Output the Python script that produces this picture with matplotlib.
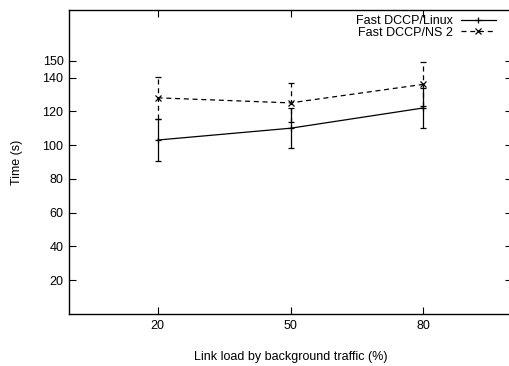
import numpy as np
import matplotlib.pyplot as plt
from matplotlib.lines import Line2D

plt.rcParams['font.family'] = ['Liberation Sans', 'DejaVu Sans']
plt.rcParams['font.size'] = 9

# link load (%) and completion time (s)
load = [20, 50, 80]
linux_mean = [103, 110, 122]
linux_err = [12.7, 12, 12]
ns2_mean = [128, 125, 136]
ns2_err = [12.5, 11.5, 13]

yticks = [20, 40, 60, 80, 100, 120, 140, 150]

dash = (0, (4, 3))

fig = plt.figure(figsize=(5.09, 3.66), dpi=100)
ax = fig.add_axes([69/509, 1 - 314/366, (512 - 69)/509, (314 - 10)/366])

ax.errorbar(load, linux_mean, yerr=linux_err, color='black', lw=0.9,
            elinewidth=0.9, capsize=2, capthick=0.9, marker='+', ms=5,
            mew=0.9)
eb = ax.errorbar(load, ns2_mean, yerr=ns2_err, color='black', lw=0.9,
                 ls=dash, elinewidth=0.9, capsize=2, capthick=0.9,
                 marker='x', ms=4, mew=0.9)
# dashed error bars for the simulation series
eb[2][0].set_linestyle(dash)

ax.set_xlim(0, 100)
ax.set_ylim(0, 180)
ax.set_xticks(load)
ax.set_yticks(yticks)
ax.tick_params(direction='in', top=True, right=True, length=5, width=0.8,
               labelsize=9, pad=4)
for s in ax.spines.values():
    s.set_linewidth(1.0)

ax.set_xlabel('Link load by background traffic (%)', fontsize=9, labelpad=14)
ax.set_ylabel('Time (s)', fontsize=9, labelpad=14)

handles = [
    Line2D([], [], color='black', lw=0.9, marker='+', ms=5, mew=0.9),
    Line2D([], [], color='black', lw=0.9, ls=dash, marker='x', ms=4, mew=0.9),
]
ax.legend(handles, ['Fast DCCP/Linux', 'Fast DCCP/NS 2'],
          loc='upper right', bbox_to_anchor=(502/509, 1 - 9/366),
          bbox_transform=fig.transFigure, frameon=False, markerfirst=False,
          handlelength=2.8, handletextpad=0.6, labelspacing=-0.05,
          borderpad=0, fontsize=9)

fig.savefig('out.png', dpi=100)
